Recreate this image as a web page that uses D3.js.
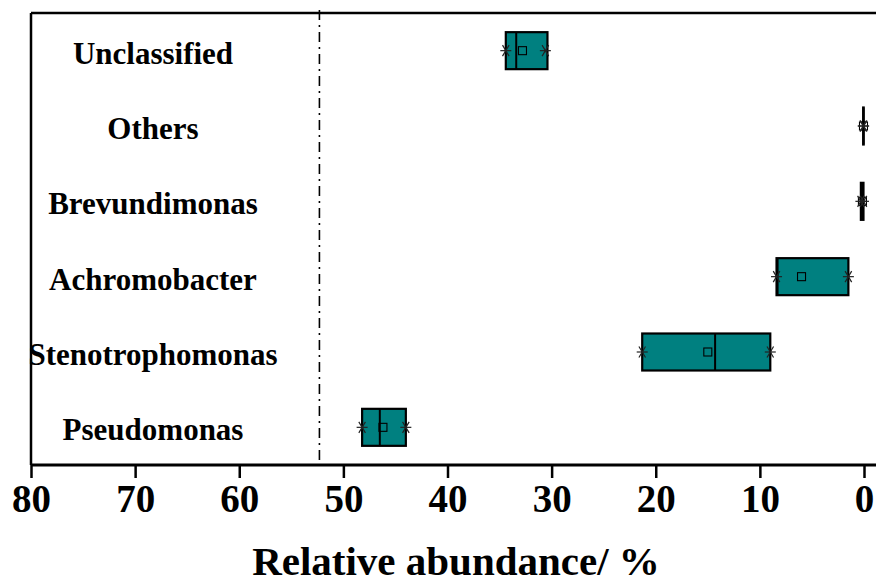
<!DOCTYPE html>
<html>
<head>
<meta charset="utf-8">
<script src="https://cdn.jsdelivr.net/npm/d3@7"></script>
<style>
  body { margin: 0; background: #fff; }
  text { font-family: "Liberation Serif", "Times New Roman", serif; font-weight: bold; }
</style>
</head>
<body>
<script>
// genera, top to bottom
const genera = ['Unclassified', 'Others', 'Brevundimonas', 'Achromobacter', 'Stenotrophomonas', 'Pseudomonas'];
// box stats (relative abundance, %)
const maxVals    = [34.4, 0.08, 0.3, 8.4, 21.3, 48.2];
const minVals    = [30.6, 0.03, 0.05, 1.5, 9.0, 44.0];
const boxHigh    = [34.4, 0.08, 0.3, 8.4, 21.3, 48.2];
const boxLow     = [30.4, 0.03, 0.05, 1.5, 9.0, 44.0];
const medianVals = [33.4, 0.05, 0.15, 8.3, 14.3, 46.5];
const meanVals   = [32.8, 0.05, 0.15, 6.0, 15.0, 46.2];
const xTicks = [80, 70, 60, 50, 40, 30, 20, 10, 0];
const refLine = 52.3;

const data = genera.map((g, i) => ({
  name: g, max: maxVals[i], min: minVals[i], hi: boxHigh[i], lo: boxLow[i],
  median: medianVals[i], mean: meanVals[i]
}));

const width = 876, height = 585;
const mLeft = 31, mRight = 864, mTop = 13, mBottom = 465;

const svg = d3.select('body').append('svg')
  .attr('width', width)
  .attr('height', height);

const x = d3.scaleLinear().domain([80, 0]).range([mLeft, mRight]);
const y = d3.scaleBand().domain(genera).range([mTop, mBottom]);
const boxH = 37;

// frame: top and left
svg.append('line')
  .attr('x1', mLeft).attr('x2', width).attr('y1', mTop).attr('y2', mTop)
  .attr('stroke', '#000').attr('stroke-width', 2.5);
svg.append('line')
  .attr('x1', mLeft).attr('x2', mLeft).attr('y1', mTop).attr('y2', mBottom)
  .attr('stroke', '#000').attr('stroke-width', 2.5);

// dash-dot reference line
svg.append('line')
  .attr('x1', x(refLine)).attr('x2', x(refLine))
  .attr('y1', mTop - 3).attr('y2', mBottom)
  .attr('stroke', '#000').attr('stroke-width', 1.6)
  .attr('stroke-dasharray', '10,5,2,5');

// x axis
const xAxis = svg.append('g')
  .attr('transform', `translate(0,${mBottom})`)
  .call(d3.axisBottom(x).tickValues(xTicks).tickSize(13).tickPadding(6).tickSizeOuter(0));
xAxis.select('.domain')
  .attr('d', `M${mLeft},0H${width}`)
  .attr('stroke-width', 3);
xAxis.selectAll('.tick line').attr('stroke-width', 2.5);
xAxis.selectAll('.tick text')
  .attr('font-size', 39)
  .attr('fill', '#000')
  .attr('dy', '0.72em');

// axis title
svg.append('text')
  .attr('x', 456).attr('y', 575)
  .attr('text-anchor', 'middle')
  .attr('font-size', 41)
  .text('Relative abundance/ %');

// category labels
svg.selectAll('.cat')
  .data(genera)
  .enter().append('text')
  .attr('class', 'cat')
  .attr('x', 153)
  .attr('y', d => y(d) + y.bandwidth() / 2 + 13)
  .attr('text-anchor', 'middle')
  .attr('font-size', 31)
  .text(d => d);

// boxes
const g = svg.selectAll('.box')
  .data(data)
  .enter().append('g')
  .attr('class', 'box')
  .attr('transform', d => `translate(0,${y(d.name) + y.bandwidth() / 2})`);

g.append('rect')
  .attr('x', d => x(d.hi))
  .attr('y', -boxH / 2)
  .attr('width', d => Math.max(x(d.lo) - x(d.hi), 0.5))
  .attr('height', boxH)
  .attr('fill', '#008080')
  .attr('stroke', '#000')
  .attr('stroke-width', 2.2);

g.append('line')
  .attr('x1', d => x(d.median)).attr('x2', d => x(d.median))
  .attr('y1', -boxH / 2).attr('y2', boxH / 2)
  .attr('stroke', '#000').attr('stroke-width', 2);

g.append('rect')
  .attr('x', d => x(d.mean) - 4)
  .attr('y', -4)
  .attr('width', 8).attr('height', 8)
  .attr('fill', 'none')
  .attr('stroke', '#000')
  .attr('stroke-width', 1.1);

// star markers at min and max
function star(sel, key) {
  const r = 5.5;
  const s = sel.append('g')
    .attr('transform', d => `translate(${x(d[key])},0)`);
  [[-r, 0, r, 0], [-r * 0.6, -r, r * 0.6, r], [-r * 0.6, r, r * 0.6, -r]].forEach(p => {
    s.append('line')
      .attr('x1', p[0]).attr('y1', p[1]).attr('x2', p[2]).attr('y2', p[3])
      .attr('stroke', '#222').attr('stroke-width', 1.2);
  });
}
star(g, 'max');
star(g, 'min');
</script>
</body>
</html>
